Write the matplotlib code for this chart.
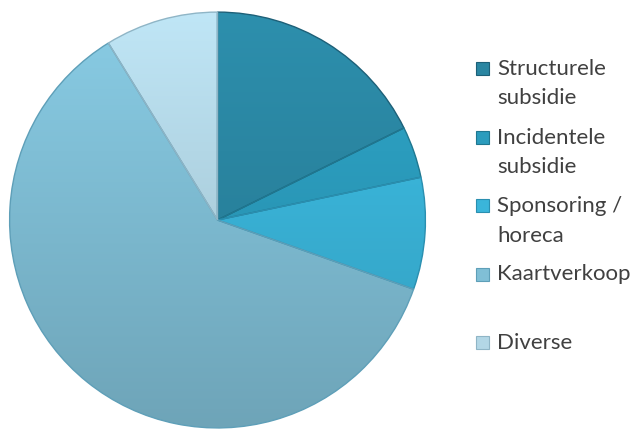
import numpy as np
import matplotlib.pyplot as plt
from matplotlib.colors import to_rgb
from matplotlib.patches import Rectangle

# Inkomstenverdeling (aandelen in %)
labels = ['Structurele\nsubsidie', 'Incidentele\nsubsidie', 'Sponsoring /\nhoreca',
          'Kaartverkoop\n ', 'Diverse']
shares = [17.7, 4.0, 8.7, 60.8, 8.8]
colors = ['#2a86a2', '#2b9cbd', '#3ab5da', '#80bfd6', '#b3d7e6']
edges = ['#1d6078', '#1f7790', '#2a8fb0', '#5e9fb8', '#8fb5c6']

plt.rcParams['font.family'] = ['Lato', 'DejaVu Sans']

W, H = 636, 432
fig = plt.figure(figsize=(W / 100, H / 100), dpi=100)
ax = fig.add_axes([0.0118, 0.0046, 0.6604, 0.9722])

wedges, _ = ax.pie(shares, colors=colors, startangle=90, counterclock=False,
                   radius=1.0, wedgeprops=dict(linewidth=1.0))

# verticaal verloop per taartpunt (licht boven, donker onder)
t = np.linspace(0, 1, 256)[:, None]
for w, c, ec in zip(wedges, colors, edges):
    rgb = np.array(to_rgb(c))
    top = np.clip(rgb * 1.07, 0, 1)
    bot = rgb * 0.86
    img = top[None, None, :] * (1 - t[..., None]) + bot[None, None, :] * t[..., None]
    im = ax.imshow(img, extent=(-1, 1, -1, 1), aspect='auto', zorder=1.5,
                   interpolation='bilinear')
    im.set_clip_path(w)
    w.set_facecolor('none')
    w.set_edgecolor(ec)
    w.set_zorder(2)

ax.set_xlim(-1.01, 1.01)
ax.set_ylim(-1.01, 1.01)
ax.set_aspect('equal')
ax.axis('off')

# legenda: blokje naast de eerste regel van elk label
y = 75.0  # basislijn eerste regel, pixels van boven
line_h, gap = 29.5, 9.5
for lab, c, ec in zip(labels, colors, edges):
    fig.add_artist(Rectangle((476 / W, 1 - y / H), 13 / W, 13 / H,
                             transform=fig.transFigure, facecolor=c,
                             edgecolor=ec, linewidth=0.8))
    lines = lab.split('\n')
    for k, ln in enumerate(lines):
        fig.text(497 / W, 1 - (y + k * line_h) / H, ln, fontsize=16,
                 color='#404040', va='baseline', ha='left')
    y += len(lines) * line_h + gap

fig.savefig('out.png', dpi=100)
